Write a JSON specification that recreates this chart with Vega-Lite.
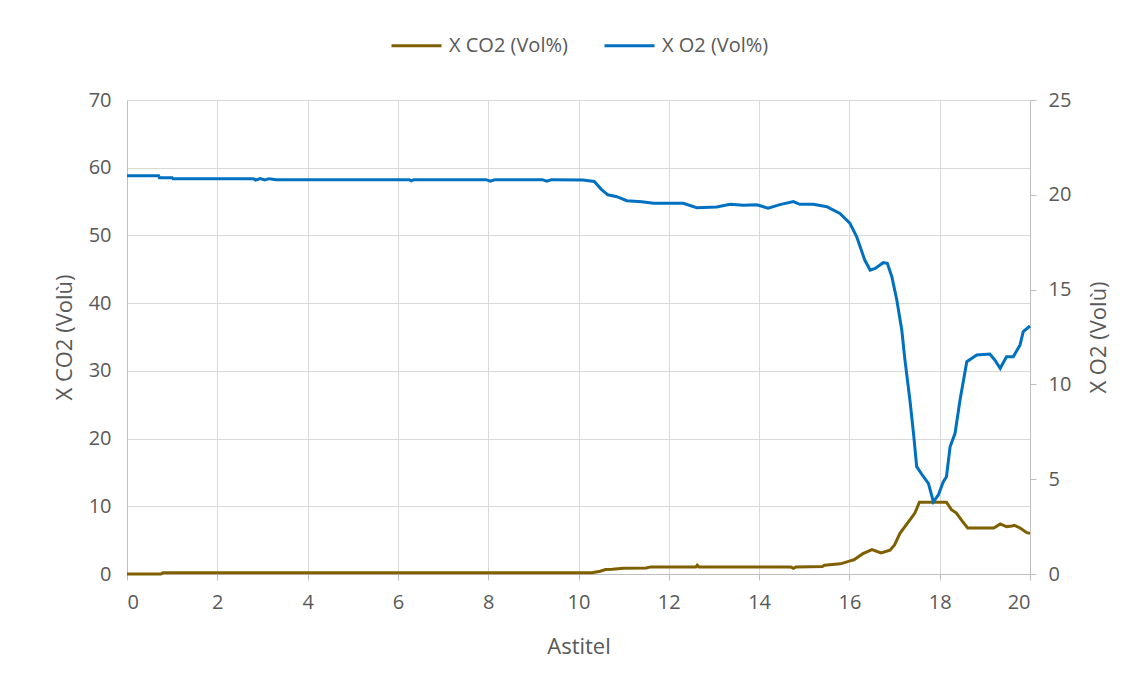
{
  "$schema": "https://vega.github.io/schema/vega-lite/v6.json",
  "autosize": "none",
  "width": 903,
  "height": 474,
  "padding": {"left": 127, "top": 100, "right": 105, "bottom": 112},
  "background": "white",
  "config": {
    "font": "Open Sans",
    "view": {"stroke": null},
    "axis": {"labelColor": "#595959", "titleColor": "#595959", "labelFontSize": 20, "titleFontSize": 22, "titleFontWeight": "normal", "gridColor": "#D9D9D9", "domainColor": "#BFBFBF", "tickColor": "#BFBFBF", "labelFont": "Open Sans", "titleFont": "Open Sans", "labelOverlap": false},
    "legend": {"labelColor": "#595959", "labelFontSize": 20, "labelFont": "Open Sans"}
  },
  "datasets": {
    "gas": [
      {"t": 0, "series": "X CO2 (Vol%)", "v": 0},
      {"t": 0.75, "series": "X CO2 (Vol%)", "v": 0},
      {"t": 0.8, "series": "X CO2 (Vol%)", "v": 0.2},
      {"t": 10.3, "series": "X CO2 (Vol%)", "v": 0.2},
      {"t": 10.48, "series": "X CO2 (Vol%)", "v": 0.4},
      {"t": 10.6, "series": "X CO2 (Vol%)", "v": 0.65},
      {"t": 10.75, "series": "X CO2 (Vol%)", "v": 0.7},
      {"t": 11.0, "series": "X CO2 (Vol%)", "v": 0.85},
      {"t": 11.5, "series": "X CO2 (Vol%)", "v": 0.9},
      {"t": 11.6, "series": "X CO2 (Vol%)", "v": 1.05},
      {"t": 12.6, "series": "X CO2 (Vol%)", "v": 1.05},
      {"t": 12.63, "series": "X CO2 (Vol%)", "v": 1.3},
      {"t": 12.67, "series": "X CO2 (Vol%)", "v": 1.05},
      {"t": 14.7, "series": "X CO2 (Vol%)", "v": 1.05},
      {"t": 14.76, "series": "X CO2 (Vol%)", "v": 0.85},
      {"t": 14.82, "series": "X CO2 (Vol%)", "v": 1.05},
      {"t": 15.4, "series": "X CO2 (Vol%)", "v": 1.1},
      {"t": 15.45, "series": "X CO2 (Vol%)", "v": 1.3},
      {"t": 15.8, "series": "X CO2 (Vol%)", "v": 1.5},
      {"t": 16.0, "series": "X CO2 (Vol%)", "v": 1.9},
      {"t": 16.1, "series": "X CO2 (Vol%)", "v": 2.1},
      {"t": 16.3, "series": "X CO2 (Vol%)", "v": 3.0},
      {"t": 16.5, "series": "X CO2 (Vol%)", "v": 3.6},
      {"t": 16.7, "series": "X CO2 (Vol%)", "v": 3.1},
      {"t": 16.9, "series": "X CO2 (Vol%)", "v": 3.5},
      {"t": 17.0, "series": "X CO2 (Vol%)", "v": 4.3},
      {"t": 17.12, "series": "X CO2 (Vol%)", "v": 6.0},
      {"t": 17.34, "series": "X CO2 (Vol%)", "v": 8.0},
      {"t": 17.45, "series": "X CO2 (Vol%)", "v": 9.0},
      {"t": 17.55, "series": "X CO2 (Vol%)", "v": 10.6},
      {"t": 18.15, "series": "X CO2 (Vol%)", "v": 10.6},
      {"t": 18.26, "series": "X CO2 (Vol%)", "v": 9.5},
      {"t": 18.37, "series": "X CO2 (Vol%)", "v": 9.0},
      {"t": 18.5, "series": "X CO2 (Vol%)", "v": 7.8},
      {"t": 18.62, "series": "X CO2 (Vol%)", "v": 6.8},
      {"t": 19.2, "series": "X CO2 (Vol%)", "v": 6.8},
      {"t": 19.34, "series": "X CO2 (Vol%)", "v": 7.4},
      {"t": 19.48, "series": "X CO2 (Vol%)", "v": 7.0},
      {"t": 19.6, "series": "X CO2 (Vol%)", "v": 7.1},
      {"t": 19.65, "series": "X CO2 (Vol%)", "v": 7.2},
      {"t": 19.78, "series": "X CO2 (Vol%)", "v": 6.8},
      {"t": 19.93, "series": "X CO2 (Vol%)", "v": 6.1},
      {"t": 20, "series": "X CO2 (Vol%)", "v": 6.0},

      {"t": 0, "series": "X O2 (Vol%)", "v": 21.0},
      {"t": 0.7, "series": "X O2 (Vol%)", "v": 21.0},
      {"t": 0.72, "series": "X O2 (Vol%)", "v": 20.9},
      {"t": 1.0, "series": "X O2 (Vol%)", "v": 20.9},
      {"t": 1.02, "series": "X O2 (Vol%)", "v": 20.85},
      {"t": 2.8, "series": "X O2 (Vol%)", "v": 20.85},
      {"t": 2.85, "series": "X O2 (Vol%)", "v": 20.78},
      {"t": 2.95, "series": "X O2 (Vol%)", "v": 20.85},
      {"t": 3.05, "series": "X O2 (Vol%)", "v": 20.78},
      {"t": 3.15, "series": "X O2 (Vol%)", "v": 20.85},
      {"t": 3.3, "series": "X O2 (Vol%)", "v": 20.8},
      {"t": 6.25, "series": "X O2 (Vol%)", "v": 20.8},
      {"t": 6.3, "series": "X O2 (Vol%)", "v": 20.74},
      {"t": 6.35, "series": "X O2 (Vol%)", "v": 20.8},
      {"t": 7.95, "series": "X O2 (Vol%)", "v": 20.8},
      {"t": 8.05, "series": "X O2 (Vol%)", "v": 20.72},
      {"t": 8.15, "series": "X O2 (Vol%)", "v": 20.8},
      {"t": 9.2, "series": "X O2 (Vol%)", "v": 20.8},
      {"t": 9.3, "series": "X O2 (Vol%)", "v": 20.72},
      {"t": 9.4, "series": "X O2 (Vol%)", "v": 20.8},
      {"t": 10.1, "series": "X O2 (Vol%)", "v": 20.78},
      {"t": 10.35, "series": "X O2 (Vol%)", "v": 20.7},
      {"t": 10.5, "series": "X O2 (Vol%)", "v": 20.3},
      {"t": 10.65, "series": "X O2 (Vol%)", "v": 20.0},
      {"t": 10.85, "series": "X O2 (Vol%)", "v": 19.9},
      {"t": 11.07, "series": "X O2 (Vol%)", "v": 19.69},
      {"t": 11.4, "series": "X O2 (Vol%)", "v": 19.63},
      {"t": 11.66, "series": "X O2 (Vol%)", "v": 19.55},
      {"t": 12.32, "series": "X O2 (Vol%)", "v": 19.55},
      {"t": 12.62, "series": "X O2 (Vol%)", "v": 19.32},
      {"t": 13.06, "series": "X O2 (Vol%)", "v": 19.36},
      {"t": 13.36, "series": "X O2 (Vol%)", "v": 19.5},
      {"t": 13.65, "series": "X O2 (Vol%)", "v": 19.45},
      {"t": 13.95, "series": "X O2 (Vol%)", "v": 19.47},
      {"t": 14.2, "series": "X O2 (Vol%)", "v": 19.3},
      {"t": 14.46, "series": "X O2 (Vol%)", "v": 19.48},
      {"t": 14.76, "series": "X O2 (Vol%)", "v": 19.64},
      {"t": 14.9, "series": "X O2 (Vol%)", "v": 19.5},
      {"t": 15.2, "series": "X O2 (Vol%)", "v": 19.5},
      {"t": 15.5, "series": "X O2 (Vol%)", "v": 19.37},
      {"t": 15.79, "series": "X O2 (Vol%)", "v": 19.02},
      {"t": 16.01, "series": "X O2 (Vol%)", "v": 18.5},
      {"t": 16.16, "series": "X O2 (Vol%)", "v": 17.8},
      {"t": 16.34, "series": "X O2 (Vol%)", "v": 16.56},
      {"t": 16.46, "series": "X O2 (Vol%)", "v": 16.03},
      {"t": 16.57, "series": "X O2 (Vol%)", "v": 16.12},
      {"t": 16.75, "series": "X O2 (Vol%)", "v": 16.42},
      {"t": 16.84, "series": "X O2 (Vol%)", "v": 16.39},
      {"t": 16.94, "series": "X O2 (Vol%)", "v": 15.68},
      {"t": 17.05, "series": "X O2 (Vol%)", "v": 14.45},
      {"t": 17.16, "series": "X O2 (Vol%)", "v": 12.87},
      {"t": 17.23, "series": "X O2 (Vol%)", "v": 11.29},
      {"t": 17.34, "series": "X O2 (Vol%)", "v": 9.18},
      {"t": 17.42, "series": "X O2 (Vol%)", "v": 7.42},
      {"t": 17.49, "series": "X O2 (Vol%)", "v": 5.66},
      {"t": 17.64, "series": "X O2 (Vol%)", "v": 5.13},
      {"t": 17.75, "series": "X O2 (Vol%)", "v": 4.78},
      {"t": 17.86, "series": "X O2 (Vol%)", "v": 3.81},
      {"t": 17.97, "series": "X O2 (Vol%)", "v": 4.17},
      {"t": 18.08, "series": "X O2 (Vol%)", "v": 4.87},
      {"t": 18.15, "series": "X O2 (Vol%)", "v": 5.13},
      {"t": 18.23, "series": "X O2 (Vol%)", "v": 6.71},
      {"t": 18.34, "series": "X O2 (Vol%)", "v": 7.42},
      {"t": 18.45, "series": "X O2 (Vol%)", "v": 9.18},
      {"t": 18.6, "series": "X O2 (Vol%)", "v": 11.2},
      {"t": 18.82, "series": "X O2 (Vol%)", "v": 11.55},
      {"t": 19.11, "series": "X O2 (Vol%)", "v": 11.6},
      {"t": 19.22, "series": "X O2 (Vol%)", "v": 11.29},
      {"t": 19.34, "series": "X O2 (Vol%)", "v": 10.85},
      {"t": 19.48, "series": "X O2 (Vol%)", "v": 11.46},
      {"t": 19.63, "series": "X O2 (Vol%)", "v": 11.46},
      {"t": 19.78, "series": "X O2 (Vol%)", "v": 12.08},
      {"t": 19.85, "series": "X O2 (Vol%)", "v": 12.78},
      {"t": 20, "series": "X O2 (Vol%)", "v": 13.08}
    ]
  },
  "data": {"name": "gas"},
  "encoding": {
    "x": {"field": "t", "type": "quantitative", "scale": {"domain": [0, 20], "nice": false},
      "axis": {"title": "Astitel", "values": [0,2,4,6,8,10,12,14,16,18,20], "grid": true, "tickSize": 6, "labelPadding": 12, "titlePadding": 24}},
    "color": {"field": "series", "type": "nominal",
      "scale": {"domain": ["X CO2 (Vol%)", "X O2 (Vol%)"], "range": ["#7F6000", "#0070C0"]},
      "legend": {"title": null, "orient": "none", "legendX": 263, "legendY": -81, "direction": "horizontal", "symbolType": "stroke", "symbolSize": 2500, "symbolStrokeWidth": 3, "columnPadding": 30, "labelOffset": 6}}
  },
  "layer": [
    {
      "transform": [{"filter": "datum.series === 'X CO2 (Vol%)'"}],
      "mark": {"type": "line", "strokeWidth": 3},
      "encoding": {
        "y": {"field": "v", "type": "quantitative", "scale": {"domain": [0, 70], "nice": false},
          "axis": {"title": "X CO2 (Volù)", "orient": "left", "values": [0,10,20,30,40,50,60,70], "grid": true, "ticks": false, "labelPadding": 16, "titlePadding": 12}}
      }
    },
    {
      "transform": [{"filter": "datum.series === 'X O2 (Vol%)'"}],
      "mark": {"type": "line", "strokeWidth": 3},
      "encoding": {
        "y": {"field": "v", "type": "quantitative", "scale": {"domain": [0, 25], "nice": false},
          "axis": {"title": "X O2 (Volù)", "orient": "right", "titleAngle": 270, "titleBaseline": "top", "values": [0,5,10,15,20,25], "grid": false, "tickSize": 6, "labelPadding": 12, "titlePadding": 18}}
      }
    }
  ],
  "resolve": {"scale": {"y": "independent"}}
}
